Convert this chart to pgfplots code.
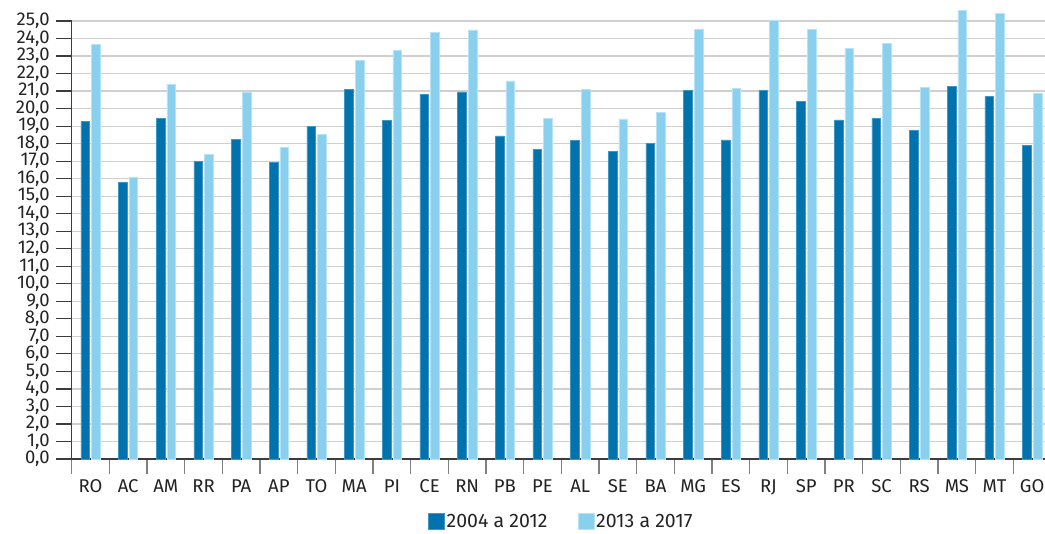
\documentclass[border=0pt]{standalone}
\usepackage{fontspec}
\setmainfont{Fira Sans}
\usepackage{pgfplots}
\pgfplotsset{compat=1.18}

\definecolor{serieA}{RGB}{0,115,174}
\definecolor{serieB}{RGB}{137,207,238}
\definecolor{txt}{RGB}{35,35,35}
\definecolor{gridc}{RGB}{208,208,208}
\definecolor{axc}{RGB}{60,60,60}

% valores por UF
\pgfplotstableread{
x uf a b
0 RO 19.25 23.67
1 AC 15.79 16.08
2 AM 19.45 21.40
3 RR 16.99 17.39
4 PA 18.26 20.91
5 AP 16.95 17.79
6 TO 19.00 18.53
7 MA 21.11 22.77
8 PI 19.31 23.31
9 CE 20.83 24.35
10 RN 20.95 24.49
11 PB 18.44 21.58
12 PE 17.69 19.46
13 AL 18.19 21.10
14 SE 17.56 19.41
15 BA 18.02 19.79
16 MG 21.06 24.52
17 ES 18.21 21.16
18 RJ 21.04 25.04
19 SP 20.39 24.52
20 PR 19.35 23.44
21 SC 19.46 23.74
22 RS 18.74 21.21
23 MS 21.25 25.61
24 MT 20.68 25.42
25 GO 17.92 20.87
}\dados

\begin{document}
\begin{tikzpicture}
\useasboundingbox (-71.7pt,-75pt) rectangle (973.3pt,459pt);
\begin{axis}[
  at={(0,0)}, anchor=south west,
  scale only axis,
  width=973.3pt, height=438pt,
  xmin=-0.5, xmax=25.34,
  ymin=0, ymax=25,
  clip=false,
  font=\fontsize{18.5}{20}\selectfont,
  every tick label/.append style={text=txt},
  ytick={0,1,...,25},
  yticklabel style={xshift=-3pt,
    /pgf/number format/.cd, fixed, fixed zerofill, precision=1, use comma, assume math mode=true},
  ymajorgrids,
  grid style={gridc, line width=1.2pt},
  xtick={0,...,25},
  xticklabels from table={\dados}{uf},
  xticklabel style={yshift=-2pt},
  minor xtick={-0.5,0.5,...,24.5},
  tick align=outside,
  major tick length=15.5pt,
  minor tick length=15pt,
  x tick style={draw=none},
  minor x tick style={draw=gray, line width=1.2pt},
  y tick style={axc, line width=1.2pt},
  every minor tick/.style={draw=gray, line width=1.2pt},
  axis x line*=bottom,
  axis y line*=left,
  axis line style={axc, line width=1.5pt, -},
  ybar, bar width=8.6pt,
  legend columns=2,
  legend style={at={(0.503,-0.143)}, anchor=center, draw=none, fill=none,
    font=\fontsize{19.5}{21}\selectfont, text=txt,
    /tikz/every even column/.append style={column sep=28pt}},
  legend image code/.code={\fill[#1] (0pt,-8pt) rectangle (16pt,8pt);},
]
\addplot[fill=serieA, draw=serieA!75!white, line width=0.6pt, bar shift=-5.3pt] table[x=x, y=a] {\dados};
\addplot[fill=serieB, draw=serieB!60!white, line width=0.6pt, bar shift=5.3pt] table[x=x, y=b] {\dados};
\legend{2004 a 2012, 2013 a 2017}
\end{axis}
\end{tikzpicture}
\end{document}
